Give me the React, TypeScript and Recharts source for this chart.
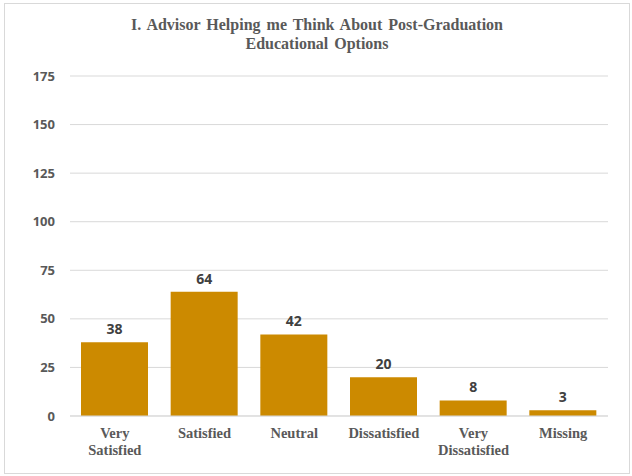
import { BarChart, Bar, XAxis, YAxis, CartesianGrid, LabelList } from 'recharts'

// survey responses
const categories = ['Very Satisfied', 'Satisfied', 'Neutral', 'Dissatisfied', 'Very Dissatisfied', 'Missing']
const counts = [38, 64, 42, 20, 8, 3]
const yTicks = [0, 25, 50, 75, 100, 125, 150, 175]

const data = categories.map((name, i) => ({ name, count: counts[i] }))

const GOLD = '#CC8A00'
const GREY = '#595959'

function CategoryTick(props: any) {
  const { x, y, payload } = props
  const words: string[] = payload.value.startsWith('Very ') ? ['Very', payload.value.slice(5)] : [payload.value]
  return (
    <text
      x={x}
      y={y}
      textAnchor="middle"
      fill={GREY}
      style={{ fontFamily: '"Liberation Serif", serif', fontWeight: 700, fontSize: 14.5 }}
    >
      {words.map((w, i) => (
        <tspan key={w} x={x} dy={i === 0 ? 22 : 17}>
          {w}
        </tspan>
      ))}
    </text>
  )
}

export default function App() {
  return (
    <div style={{ position: 'absolute', left: 0, top: 0, width: 632, height: 476, background: '#fff' }}>
      <div
        style={{
          position: 'absolute',
          left: 4,
          top: 3,
          width: 624,
          height: 469,
          border: '1px solid #D9D9D9',
        }}
      />
      <div
        style={{
          position: 'absolute',
          left: 1,
          top: 16,
          width: 632,
          textAlign: 'center',
          fontFamily: '"Liberation Serif", serif',
          fontWeight: 700,
          fontSize: 16,
          wordSpacing: 2,
          lineHeight: '18.5px',
          color: GREY,
        }}
      >
        I. Advisor Helping me Think About Post-Graduation
        <br />
        Educational Options
      </div>
      <div style={{ position: 'absolute', left: 0, top: 0 }}>
        <BarChart width={632} height={476} data={data} margin={{ top: 76, right: 24, left: 0, bottom: 20 }}>
          <CartesianGrid vertical={false} stroke="#D9D9D9" />
          <XAxis
            dataKey="name"
            interval={0}
            height={40}
            tickLine={false}
            tickSize={0}
            tickMargin={0}
            axisLine={{ stroke: '#D9D9D9' }}
            tick={<CategoryTick />}
          />
          <YAxis
            width={70}
            domain={[0, 175]}
            ticks={yTicks}
            axisLine={false}
            tickLine={false}
            tickSize={0}
            tickMargin={15}
            tick={{ fill: GREY, fontFamily: '"Open Sans", sans-serif', fontWeight: 700, fontSize: 13 }}
          />
          <Bar dataKey="count" fill={GOLD} barSize={67} isAnimationActive={false}>
            <LabelList
              dataKey="count"
              position="top"
              offset={8}
              fill="#404040"
              style={{ fontFamily: '"Open Sans", sans-serif', fontWeight: 700, fontSize: 14 }}
            />
          </Bar>
        </BarChart>
      </div>
    </div>
  )
}
